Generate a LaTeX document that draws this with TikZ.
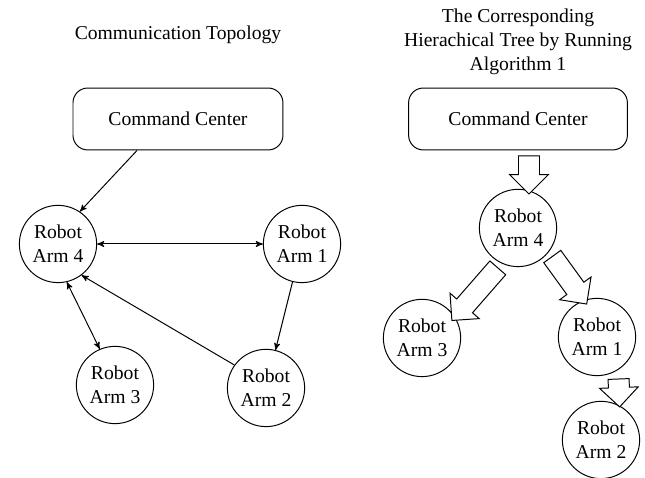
\documentclass[tikz,border=0pt]{standalone}
\usepackage{fontspec}
\setmainfont{Liberation Serif}
\usetikzlibrary{automata}
\usetikzlibrary{shapes.geometric, arrows, shapes.arrows}
\usetikzlibrary{automata,positioning}

\begin{document}
\begin{tikzpicture}[->,>=stealth',auto,semithick,font=\fontsize{12}{14.5}\selectfont]
			\tikzstyle{every state}=[draw=black,semithick,text=black,minimum size=1.66cm,inner sep=0pt,align=center]
			\tikzstyle{center}=[draw=black,rounded corners=9pt,minimum width=4.51cm,minimum height=1.33cm]
			\tikzstyle{tree}=[draw=black,fill=white,single arrow,inner xsep=0pt,inner ysep=0.215cm,minimum width=0.82cm,single arrow head extend=0.19cm,sloped,allow upside down]
			\useasboundingbox (0,0) rectangle (13.855,-10.267);
			% communication topology
			\node[center]   (cc1) at (3.823,-2.556)                                   {Command Center};
			\node           (top1)[above of=cc1, node distance=1.8cm]                 {Communication Topology};
			\node[state]    (a4L)[below of=cc1, node distance=2.685cm, xshift=-2.577cm] {Robot\\Arm 4};
			\node[state]    (a1L)[right of=a4L, node distance=5.241cm]               {Robot\\Arm 1};
			\node[state]    (a3L)[below of=a4L, node distance=3.029cm, xshift=1.224cm] {Robot\\Arm 3};
			\node[state]    (a2L)[below of=a1L, node distance=3.093cm, xshift=-0.773cm] {Robot\\Arm 2};
			% hierachical tree
			\node[center, minimum width=4.7cm] (cc2)[right of=cc1, node distance=7.304cm] {Command Center};
			\node[align=center] (top2)[above of=cc2, node distance=1.654cm]          {The Corresponding\\Hierachical Tree by Running\\Algorithm 1};
			\node[state]    (a4R)[below of=cc2, node distance=2.341cm]                {Robot\\Arm 4};
			\node[state]    (a3R)[below of=a4R, node distance=2.363cm, xshift=-2.062cm] {Robot\\Arm 3};
			\node[state]    (a1R)[below of=a4R, node distance=2.342cm, xshift=1.697cm] {Robot\\Arm 1};
			\node[state]    (a2R)[below of=a1R, node distance=2.212cm, xshift=0.086cm] {Robot\\Arm 2};
			\path
			([xshift=-0.88cm]cc1.south) edge (a4L.56)
			(a4L) edge[<->] (a1L)
			(a1L) edge (a2L)
			(a2L.144) edge (a4L.-53)
			(a4L.-77) edge[<->] (a3L.113);
			\path (cc2) -- (a4R) node[midway,tree,minimum height=0.82cm] {};
			\path (a4R) -- (a3R) node[midway,tree,minimum height=1.5cm] {};
			\path (a4R) -- (a1R) node[midway,tree,minimum height=1.26cm] {};
			\path (a1R) -- (a2R) node[midway,tree,minimum height=0.6cm] {};
		\end{tikzpicture}
\end{document}
